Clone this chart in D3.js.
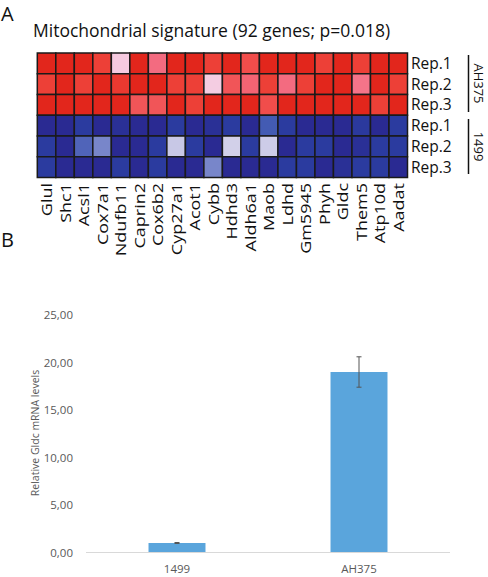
<!DOCTYPE html>
<html>
<head>
<meta charset="utf-8">
<script src="https://cdn.jsdelivr.net/npm/d3@7"></script>
<style>
  html, body { margin: 0; padding: 0; background: #fff; }
  svg { display: block; }
</style>
</head>
<body>
<svg id="chart" width="488" height="577"></svg>
<script>
// ---------- Data ----------
const genes = ["Glul","Shc1","Acsl1","Cox7a1","Ndufb11","Caprin2","Cox6b2","Cyp27a1","Acot1","Cybb",
               "Hdhd3","Aldh6a1","Maob","Ldhd","Gm5945","Phyh","Gldc","Them5","Atp10d","Aadat"];
const repLabels = ["Rep.1","Rep.2","Rep.3","Rep.1","Rep.2","Rep.3"];
const groups = ["AH375","1499"];
// relative expression (z-score-like), one array per row
const ah375_rep1 = [2,2,2,1.6,0.4,2,1.0,2,2,1.6,2,1.4,2,2,2,1.6,2,1.6,2,2];
const ah375_rep2 = [1.6,2,1.6,2,1.7,2,2,1.6,1.6,0.35,1.3,1.1,1.6,1.0,1.6,2,2,0.95,2,1.6];
const ah375_rep3 = [2,2,2,2,2,1.3,1.3,2,1.6,2,2,2,1.4,2,2,2,2,2,1.6,2];
const c1499_rep1 = [-2,-2,-1.7,-2,-1.9,-2,-2,-1.7,-2,-1.9,-1.7,-2,-1.3,-1.7,-2,-2,-2,-1.75,-2,-1.7];
const c1499_rep2 = [-1.7,-2,-1.2,-0.9,-2,-2,-1.7,-0.35,-1.7,-2,-0.25,-1.7,-0.3,-2,-1.7,-1.7,-2,-1.9,-1.7,-1.7];
const c1499_rep3 = [-1.7,-2,-2,-2,-1.7,-2,-1.7,-2,-2,-0.9,-2,-2,-2,-1.7,-1.7,-2,-1.9,-1.7,-1.7,-2];
const heatRows = [ah375_rep1, ah375_rep2, ah375_rep3, c1499_rep1, c1499_rep2, c1499_rep3];

const barCategories = ["1499","AH375"];
const barValues = [1.0, 19.0];
const barErrors = [0.05, 1.6];
const yTicks = [0,5,10,15,20,25];

// ---------- Setup ----------
const svg = d3.select("#chart");
const FONT = "Open Sans, sans-serif";

// Panel letters
svg.append("text").attr("x", 1).attr("y", 21)
  .attr("font-family", FONT).attr("font-size", 20).attr("fill", "#111").text("A");
svg.append("text").attr("x", 1).attr("y", 247)
  .attr("font-family", FONT).attr("font-size", 20).attr("fill", "#111").text("B");

// ---------- Heatmap ----------
svg.append("text").attr("x", 33).attr("y", 37)
  .attr("font-family", FONT).attr("font-size", 17.5).attr("fill", "#111")
  .text("Mitochondrial signature (92 genes; p=0.018)");

const hx = d3.scaleBand().domain(d3.range(genes.length)).range([37.3, 407.5]);
const hy = d3.scaleBand().domain(d3.range(heatRows.length)).range([53, 177.5]);
const color = d3.scaleLinear()
  .domain([-2, -1.5, -1, -0.5, 0, 0.5, 1, 1.5, 2])
  .range(["#2a2a92", "#2b47a8", "#6878c4", "#b8bde2", "#ece2f0", "#f8c4dc", "#f36b80", "#f0463e", "#e2261c"])
  .clamp(true);

const hm = svg.append("g");
heatRows.forEach((row, r) => {
  hm.selectAll(null).data(row).enter().append("rect")
    .attr("x", (d, i) => hx(i))
    .attr("y", hy(r))
    .attr("width", hx.bandwidth())
    .attr("height", hy.bandwidth())
    .attr("fill", d => color(d))
    .attr("stroke", "#1a1a1a")
    .attr("stroke-width", 1.5);
});

// Row labels
svg.selectAll(".rl").data(repLabels).enter().append("text")
  .attr("x", 411).attr("y", (d, i) => hy(i) + hy.bandwidth() / 2 + 5.5)
  .attr("font-family", FONT).attr("font-size", 15.5).attr("fill", "#111")
  .text(d => d);

// Column labels
svg.selectAll(".cl").data(genes).enter().append("text")
  .attr("transform", (d, i) => `translate(${hx(i) + hx.bandwidth() / 2 + 5.5},183) rotate(-90) scale(1.2,1)`)
  .attr("text-anchor", "end")
  .attr("font-family", FONT).attr("font-size", 15).attr("fill", "#111")
  .text(d => d);

// Group brackets
const groupSpans = [[55, 112], [119, 174]];
groups.forEach((g, i) => {
  svg.append("line").attr("x1", 468.5).attr("x2", 468.5)
    .attr("y1", groupSpans[i][0]).attr("y2", groupSpans[i][1])
    .attr("stroke", "#111").attr("stroke-width", 1.5);
  svg.append("text")
    .attr("transform", `translate(473.5,${(groupSpans[i][0] + groupSpans[i][1]) / 2}) rotate(90)`)
    .attr("text-anchor", "middle")
    .attr("font-family", FONT).attr("font-size", 13).attr("fill", "#111")
    .text(g);
});

// ---------- Bar chart ----------
const by = d3.scaleLinear().domain([0, 25]).range([552.5, 315]);
const bx = d3.scaleBand().domain(barCategories).range([86, 450]).paddingInner(0.687).paddingOuter(0.3435);

const yAxis = d3.axisLeft(by).tickValues(yTicks).tickSize(0).tickPadding(0)
  .tickFormat(d => d3.format(".2f")(d).replace(".", ","));
const ya = svg.append("g").attr("transform", "translate(73,0)").call(yAxis);
ya.select(".domain").remove();
ya.selectAll("text").attr("font-family", FONT).attr("font-size", 11.5).attr("fill", "#595959");

svg.selectAll(".bar").data(barValues).enter().append("rect")
  .attr("x", (d, i) => bx(barCategories[i]))
  .attr("y", d => by(d))
  .attr("width", bx.bandwidth())
  .attr("height", d => by(0) - by(d))
  .attr("fill", "#5aa5dc");

// baseline
svg.append("line").attr("x1", 86).attr("x2", 450).attr("y1", by(0)).attr("y2", by(0))
  .attr("stroke", "#d9d9d9").attr("stroke-width", 1);

// error bars
barValues.forEach((v, i) => {
  const cx = bx(barCategories[i]) + bx.bandwidth() / 2;
  const g = svg.append("g").attr("stroke", "#555").attr("stroke-width", 1);
  g.append("line").attr("x1", cx).attr("x2", cx).attr("y1", by(v + barErrors[i])).attr("y2", by(v - barErrors[i]));
  g.append("line").attr("x1", cx - 2.5).attr("x2", cx + 2.5).attr("y1", by(v + barErrors[i])).attr("y2", by(v + barErrors[i]));
  g.append("line").attr("x1", cx - 2.5).attr("x2", cx + 2.5).attr("y1", by(v - barErrors[i])).attr("y2", by(v - barErrors[i]));
});

const xAxis = d3.axisBottom(bx).tickSize(0).tickPadding(0);
const xa = svg.append("g").attr("transform", "translate(0,565)").call(xAxis);
xa.select(".domain").remove();
xa.selectAll("text").attr("font-family", FONT).attr("font-size", 11.5).attr("fill", "#595959");

// y-axis title
svg.append("text")
  .attr("transform", "translate(39,433) rotate(-90)")
  .attr("text-anchor", "middle")
  .attr("font-family", FONT).attr("font-size", 10.5).attr("fill", "#595959")
  .text("Relative Gldc mRNA levels");
</script>
</body>
</html>
